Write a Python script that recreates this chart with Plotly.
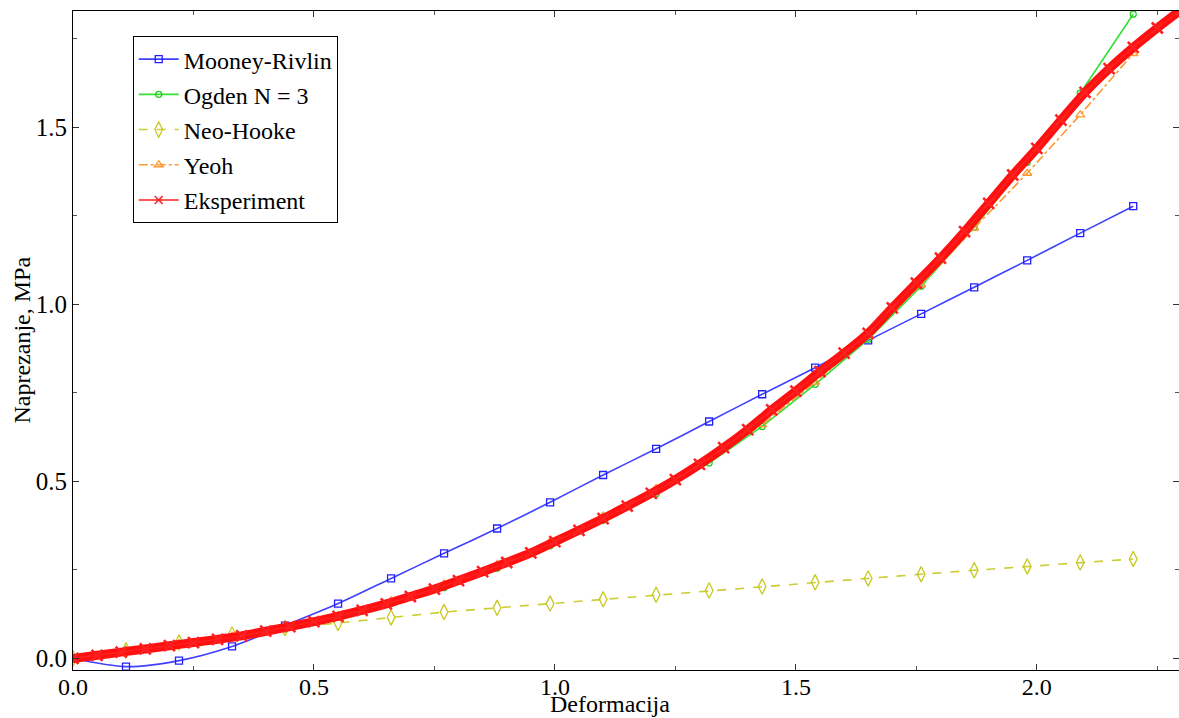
import plotly.graph_objects as go

# ---------------- data ----------------
model_x = [0.00, 0.11, 0.22, 0.33, 0.44, 0.55, 0.66, 0.77, 0.88, 0.99, 1.10,
           1.21, 1.32, 1.43, 1.54, 1.65, 1.76, 1.87, 1.98, 2.09, 2.20]

mooney_rivlin = [0.000, -0.023, -0.006, 0.034, 0.093, 0.155, 0.226, 0.297, 0.367,
                 0.441, 0.518, 0.592, 0.669, 0.746, 0.821, 0.898, 0.973, 1.048,
                 1.124, 1.201, 1.277]

ogden_n3 = [0.000, 0.020, 0.040, 0.060, 0.087, 0.117, 0.155, 0.200, 0.255, 0.318,
            0.390, 0.465, 0.552, 0.655, 0.774, 0.901, 1.051, 1.218, 1.400, 1.596,
            1.819]

neo_hooke = [0.000, 0.023, 0.045, 0.068, 0.085, 0.100, 0.116, 0.131, 0.143, 0.155,
             0.167, 0.180, 0.192, 0.203, 0.215, 0.226, 0.238, 0.249, 0.260, 0.271,
             0.281]

yeoh = [0.000, 0.020, 0.042, 0.063, 0.090, 0.122, 0.163, 0.210, 0.265, 0.330,
        0.402, 0.480, 0.565, 0.660, 0.780, 0.910, 1.055, 1.215, 1.370, 1.535,
        1.708]

exp_x = [0.00, 0.05, 0.10, 0.15, 0.20, 0.25, 0.30, 0.35, 0.40, 0.45, 0.50, 0.55,
         0.60, 0.65, 0.70, 0.75, 0.80, 0.85, 0.90, 0.95, 1.00, 1.05, 1.10, 1.15,
         1.20, 1.25, 1.30, 1.35, 1.40, 1.45, 1.50, 1.55, 1.60, 1.65, 1.70, 1.75,
         1.80, 1.85, 1.90, 1.95, 2.00, 2.05, 2.10, 2.15, 2.20, 2.25, 2.30]
exp_y = [0.000, 0.009, 0.018, 0.027, 0.036, 0.045, 0.054, 0.064, 0.077, 0.090,
         0.104, 0.119, 0.136, 0.154, 0.175, 0.196, 0.220, 0.245, 0.271, 0.298,
         0.330, 0.362, 0.395, 0.430, 0.466, 0.505, 0.548, 0.595, 0.646, 0.702,
         0.755, 0.810, 0.862, 0.918, 0.990, 1.060, 1.130, 1.205, 1.285, 1.365,
         1.440, 1.520, 1.598, 1.665, 1.725, 1.780, 1.832]

x_ticks = [0.0, 0.5, 1.0, 1.5, 2.0]
y_ticks = [0.0, 0.5, 1.0, 1.5]

FONT = "Liberation Serif"

fig = go.Figure()

fig.add_trace(go.Scatter(
    x=model_x, y=mooney_rivlin, name="Mooney-Rivlin", mode="lines+markers",
    legendgroup="mr",
    line=dict(color="#4040ff", width=1.6, shape="spline", smoothing=0.8),
    marker=dict(symbol="square-open", size=7, color="#2020ff", line=dict(width=1.3)),
))
fig.add_trace(go.Scatter(
    x=model_x, y=ogden_n3, name="Ogden N = 3", mode="lines+markers",
    legendgroup="og",
    line=dict(color="#33e033", width=1.6),
    marker=dict(symbol="circle-open", size=6, color="#22cc22", line=dict(width=1.3)),
))
fig.add_trace(go.Scatter(
    x=model_x, y=neo_hooke, name="Neo-Hooke", mode="lines+markers",
    legendgroup="nh",
    line=dict(color="#cccc33", width=1.6, dash="dash"),
    marker=dict(symbol="diamond-tall-open", size=11, color="#c8c820", line=dict(width=1.3)),
))
fig.add_trace(go.Scatter(
    x=model_x, y=yeoh, name="Yeoh", mode="lines+markers",
    legendgroup="ye",
    line=dict(color="#ff9933", width=1.6, dash="dashdot"),
    marker=dict(symbol="triangle-up-open", size=8, color="#ff9933", line=dict(width=1.3)),
))
# thick band formed by the dense experimental points
fig.add_trace(go.Scatter(
    x=exp_x, y=exp_y, mode="lines+markers", showlegend=False, hoverinfo="skip",
    legendgroup="ex",
    line=dict(color="#ff1010", width=9, shape="spline"),
    marker=dict(symbol="x-thin-open", size=11, color="#ff2020", line=dict(width=2.5)),
))
fig.add_trace(go.Scatter(
    x=exp_x, y=exp_y, name="Eksperiment", mode="lines+markers",
    legendgroup="ex",
    line=dict(color="#ff2020", width=1.4, shape="spline"),
    marker=dict(symbol="x-thin-open", size=8, color="#ff2020", line=dict(width=1.5)),
))

axis_common = dict(
    showgrid=False, zeroline=False, showline=True, linecolor="black", linewidth=1,
    mirror="ticks", ticks="inside", ticklen=6, tickwidth=1, tickcolor="#333",
    automargin=False,
    minor=dict(ticks="inside", ticklen=4, tickwidth=1, tickcolor="#555", dtick=0.25),
)

fig.update_xaxes(range=[0, 2.295], tickvals=x_ticks, ticklabelstandoff=-5,
                 tickfont=dict(family=FONT, size=24, color="black"),
                 ticktext=[f"{v:.1f}" for v in x_ticks], **axis_common)
fig.update_yaxes(range=[-0.0325, 1.828], tickvals=y_ticks,
                 tickfont=dict(family=FONT, size=25, color="black"),
                 ticktext=[f"{v:.1f}" for v in y_ticks], **axis_common)

fig.add_annotation(text="Deformacija", xref="paper", yref="paper", x=0.4855,
                   y=-48 / 659, yanchor="bottom", showarrow=False, borderpad=0,
                   font=dict(family=FONT, size=24, color="black"))
fig.add_annotation(text="Naprezanje, MPa", xref="paper", yref="paper", x=-0.047, y=0.5,
                   textangle=-90, xanchor="center", yanchor="middle", showarrow=False,
                   font=dict(family=FONT, size=24, color="black"))

fig.update_layout(
    width=1179, height=718,
    margin=dict(l=73, r=0, t=11, b=48),
    paper_bgcolor="white", plot_bgcolor="white",
    legend=dict(x=0.054, y=0.962, xanchor="left", yanchor="top",
                bordercolor="black", borderwidth=1, bgcolor="white",
                font=dict(family=FONT, size=24, color="black"),
                itemwidth=40, tracegroupgap=1, traceorder="grouped"),
    showlegend=True,
)

fig.write_html("out.html", config={"displayModeBar": False},
               post_script="document.body.style.margin='0';document.body.style.overflow='hidden';")
